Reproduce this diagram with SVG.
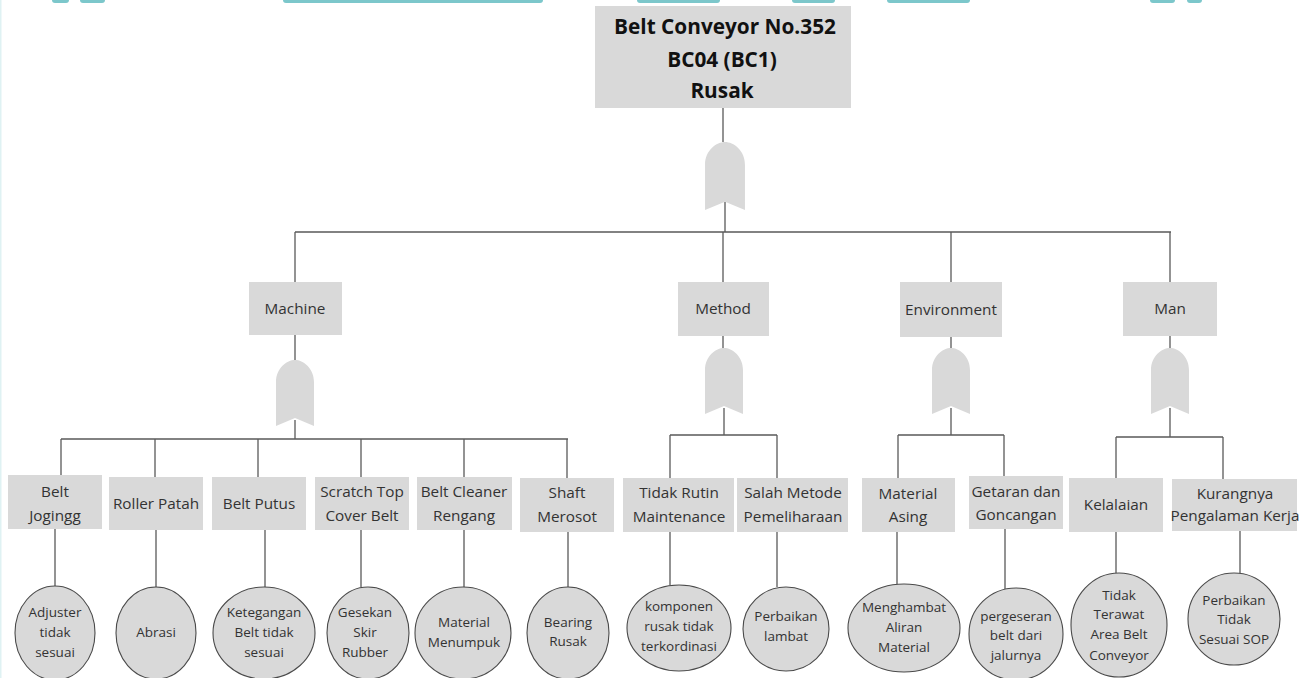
<svg xmlns="http://www.w3.org/2000/svg" width="1307" height="678" viewBox="0 0 1307 678">
  <style>
    .box { fill: #d9d9d9; }
    .leaf { fill: #d9d9d9; stroke: #4a4a4a; stroke-width: 1.1; }
    .gate { fill: #d9d9d9; }
    .wire { fill: none; stroke: #5a5a5a; stroke-width: 1.3; }
    .t { font-family: "Open Sans", "Liberation Sans", sans-serif; font-size: 15.3px; fill: #333; text-anchor: middle; }
    .s { font-family: "Open Sans", "Liberation Sans", sans-serif; font-size: 13.5px; fill: #333; text-anchor: middle; }
    .h { font-family: "Open Sans", "Liberation Sans", sans-serif; font-size: 20.8px; font-weight: bold; fill: #111; text-anchor: middle; }
    .band { fill: #7cc7cb; }
  </style>
  <defs>
    <!-- OR gate: arched top, notched bottom, origin at top centre -->
    <path id="orgate" d="M-19,66 L-19,22 C-19,8 -8,0 0,0 C8,0 19,8 19,22 L19,66 L0,58 Z"/>
  </defs>

  <rect width="1307" height="678" fill="#fff"/>
  <!-- page edge decorations -->
  <rect x="0" y="0" width="1.5" height="678" fill="#dff2f3"/>
  <g id="top-band">
    <rect class="band" x="52" y="-3" width="17" height="6" rx="3"/>
    <rect class="band" x="80" y="-3" width="25" height="6" rx="3"/>
    <rect class="band" x="283" y="-3" width="260" height="6" rx="3"/>
    <rect class="band" x="637" y="-3" width="83" height="6" rx="3"/>
    <rect class="band" x="792" y="-3" width="43" height="6" rx="3"/>
    <rect class="band" x="887" y="-3" width="83" height="6" rx="3"/>
    <rect class="band" x="1150" y="-3" width="25" height="6" rx="3"/>
    <rect class="band" x="1187" y="-3" width="15" height="6" rx="3"/>
  </g>

  <!-- connectors -->
  <g id="connectors" class="wire">
    <path d="M723,108 V142 M725,202 V232 M295,232 H1171 M295,232 V282 M723,232 V282 M951,232 V282 M1170,232 V282"/>
    <!-- Machine branch -->
    <path d="M295,335 V360 M295,420 V439 M61,439 H568 M61,439 V475 M155,439 V477 M258,439 V477 M361,439 V477 M464,439 V477 M567,439 V478"/>
    <path d="M55,529 V586 M156,530 V587 M265,530 V587 M361,530 V587 M464,530 V587 M568,532 V587"/>
    <!-- Method branch -->
    <path d="M723,336 V348 M724,408 V435 M670,435 H777 M670,435 V478 M777,435 V478 M670,532 V585 M777,532 V587"/>
    <!-- Environment branch -->
    <path d="M951,337 V348 M951,408 V435 M898,435 H1004 M898,435 V478 M1004,435 V476 M897,532 V584 M1005,529 V589"/>
    <!-- Man branch -->
    <path d="M1170,336 V348 M1170,408 V437 M1116,437 H1223 M1116,437 V478 M1223,437 V479 M1116,532 V573 M1240,531 V573"/>
  </g>

  <!-- gates -->
  <use href="#orgate" class="gate" transform="translate(725,142) scale(1.05,1.03)"/>
  <use href="#orgate" class="gate" transform="translate(295,360)"/>
  <use href="#orgate" class="gate" transform="translate(724,348)"/>
  <use href="#orgate" class="gate" transform="translate(951,348)"/>
  <use href="#orgate" class="gate" transform="translate(1170,348)"/>

  <!-- top event -->
  <g id="top-event">
    <rect class="box" x="595" y="6" width="256" height="102"/>
    <text class="h" x="725" y="34">Belt Conveyor No.352</text>
    <text class="h" x="722" y="67">BC04 (BC1)</text>
    <text class="h" x="722" y="98">Rusak</text>
  </g>

  <!-- categories -->
  <g id="cat-machine"><rect class="box" x="249" y="282" width="93" height="53"/><text class="t" x="295" y="314">Machine</text></g>
  <g id="cat-method"><rect class="box" x="678" y="282" width="91" height="54"/><text class="t" x="723" y="314">Method</text></g>
  <g id="cat-environment"><rect class="box" x="900" y="282" width="102" height="55"/><text class="t" x="951" y="315">Environment</text></g>
  <g id="cat-man"><rect class="box" x="1123" y="282" width="94" height="54"/><text class="t" x="1170" y="314">Man</text></g>

  <!-- Machine causes -->
  <g id="belt-jogingg"><rect class="box" x="8" y="475" width="94" height="54"/><text class="t" x="55" y="497">Belt</text><text class="t" x="55" y="521">Jogingg</text></g>
  <g id="roller-patah"><rect class="box" x="109" y="477" width="94" height="53"/><text class="t" x="156" y="509">Roller Patah</text></g>
  <g id="belt-putus"><rect class="box" x="212" y="477" width="94" height="53"/><text class="t" x="259" y="509">Belt Putus</text></g>
  <g id="scratch-top"><rect class="box" x="315" y="477" width="94" height="53"/><text class="t" x="362" y="497">Scratch Top</text><text class="t" x="362" y="521">Cover Belt</text></g>
  <g id="belt-cleaner"><rect class="box" x="417" y="477" width="95" height="53"/><text class="t" x="464" y="497">Belt Cleaner</text><text class="t" x="464" y="521">Rengang</text></g>
  <g id="shaft-merosot"><rect class="box" x="520" y="478" width="94" height="54"/><text class="t" x="567" y="498">Shaft</text><text class="t" x="567" y="522">Merosot</text></g>

  <!-- Method causes -->
  <g id="tidak-rutin"><rect class="box" x="623" y="478" width="111" height="54"/><text class="t" x="679" y="498">Tidak Rutin</text><text class="t" x="679" y="522">Maintenance</text></g>
  <g id="salah-metode"><rect class="box" x="737" y="478" width="111" height="54"/><text class="t" x="793" y="498">Salah Metode</text><text class="t" x="793" y="522">Pemeliharaan</text></g>

  <!-- Environment causes -->
  <g id="material-asing"><rect class="box" x="862" y="478" width="93" height="54"/><text class="t" x="908" y="499">Material</text><text class="t" x="908" y="522">Asing</text></g>
  <g id="getaran"><rect class="box" x="969" y="476" width="94" height="53"/><text class="t" x="1016" y="497">Getaran dan</text><text class="t" x="1016" y="520">Goncangan</text></g>

  <!-- Man causes -->
  <g id="kelalaian"><rect class="box" x="1069" y="478" width="94" height="54"/><text class="t" x="1116" y="510">Kelalaian</text></g>
  <g id="kurangnya"><rect class="box" x="1172" y="479" width="125" height="52"/><text class="t" x="1235" y="499">Kurangnya</text><text class="t" x="1235" y="521">Pengalaman Kerja</text></g>

  <!-- basic events -->
  <g id="adjuster"><ellipse class="leaf" cx="55" cy="633" rx="40" ry="47"/><text class="s" x="55" y="617">Adjuster</text><text class="s" x="55" y="637">tidak</text><text class="s" x="55" y="657">sesuai</text></g>
  <g id="abrasi"><ellipse class="leaf" cx="156" cy="633" rx="40" ry="46"/><text class="s" x="156" y="637">Abrasi</text></g>
  <g id="ketegangan"><ellipse class="leaf" cx="264" cy="633" rx="51" ry="46"/><text class="s" x="264" y="617">Ketegangan</text><text class="s" x="264" y="637">Belt tidak</text><text class="s" x="264" y="657">sesuai</text></g>
  <g id="gesekan"><ellipse class="leaf" cx="368" cy="633" rx="41" ry="46"/><text class="s" x="365" y="617">Gesekan</text><text class="s" x="365" y="637">Skir</text><text class="s" x="365" y="657">Rubber</text></g>
  <g id="material-menumpuk"><ellipse class="leaf" cx="463" cy="633" rx="48" ry="46"/><text class="s" x="464" y="627">Material</text><text class="s" x="464" y="647">Menumpuk</text></g>
  <g id="bearing"><ellipse class="leaf" cx="568" cy="633" rx="41" ry="46"/><text class="s" x="568" y="627">Bearing</text><text class="s" x="568" y="646">Rusak</text></g>
  <g id="komponen"><ellipse class="leaf" cx="679" cy="628" rx="52" ry="43"/><text class="s" x="679" y="611">komponen</text><text class="s" x="679" y="631">rusak tidak</text><text class="s" x="679" y="651">terkordinasi</text></g>
  <g id="perbaikan-lambat"><ellipse class="leaf" cx="786" cy="629" rx="43" ry="42"/><text class="s" x="786" y="621">Perbaikan</text><text class="s" x="786" y="641">lambat</text></g>
  <g id="menghambat"><ellipse class="leaf" cx="904" cy="628" rx="56" ry="44"/><text class="s" x="904" y="612">Menghambat</text><text class="s" x="904" y="632">Aliran</text><text class="s" x="904" y="652">Material</text></g>
  <g id="pergeseran"><ellipse class="leaf" cx="1016" cy="634" rx="47" ry="46"/><text class="s" x="1016" y="621">pergeseran</text><text class="s" x="1016" y="640">belt dari</text><text class="s" x="1016" y="660">jalurnya</text></g>
  <g id="tidak-terawat"><ellipse class="leaf" cx="1119" cy="625" rx="48" ry="52"/><text class="s" x="1119" y="600">Tidak</text><text class="s" x="1119" y="619">Terawat</text><text class="s" x="1119" y="639">Area Belt</text><text class="s" x="1119" y="660">Conveyor</text></g>
  <g id="tidak-sesuai-sop"><ellipse class="leaf" cx="1234" cy="619" rx="46" ry="46"/><text class="s" x="1234" y="605">Perbaikan</text><text class="s" x="1234" y="624">Tidak</text><text class="s" x="1234" y="644">Sesuai SOP</text></g>
</svg>
